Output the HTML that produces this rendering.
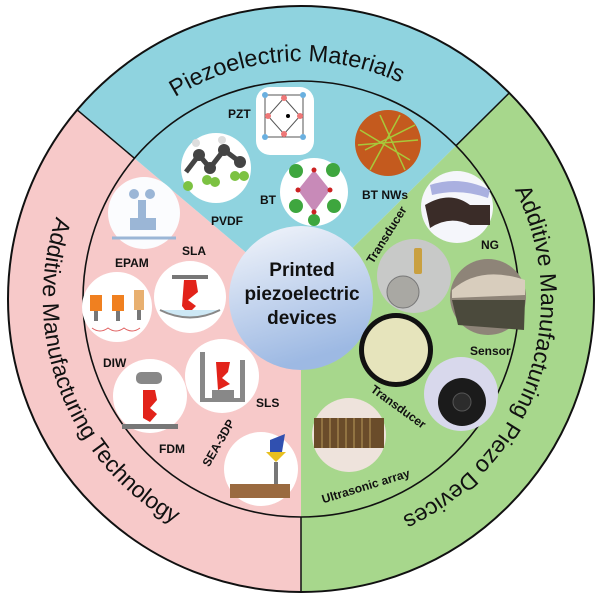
<!DOCTYPE html>
<html><head><meta charset="utf-8"><style>
html,body{margin:0;padding:0;background:#fff;width:600px;height:600px;overflow:hidden}
svg{display:block}
.l{font-family:"Liberation Sans",sans-serif;font-weight:bold;font-size:12px;fill:#111}
.r{font-family:"Liberation Sans",sans-serif;fill:#111}
</style></head><body>
<svg width="600" height="600" viewBox="0 0 600 600" xmlns="http://www.w3.org/2000/svg">
<defs>
<linearGradient id="cg" x1="0" y1="0" x2="0.3" y2="1"><stop offset="0" stop-color="#f4f6fb"/><stop offset="1" stop-color="#9db9e3"/></linearGradient>
<path id="pt" d="M77.4,217.6 A238,238 0 0 1 524.6,217.6"/>
<path id="pl" d="M153,87.6 A258,258 0 0 0 345.8,553.1"/>
<path id="pr" d="M455.3,115.2 A240,240 0 0 1 259.3,535.4"/>
</defs>
<path d="M301,299 L301,592 A293,293 0 0 1 77.2,109.9 Z" fill="#f7c9c9"/>
<path d="M301,299 L77.2,109.9 A293,293 0 0 1 509.3,92.9 Z" fill="#8fd3df"/>
<path d="M301,299 L509.3,92.9 A293,293 0 0 1 301,592 Z" fill="#a7d78c"/>
<circle cx="301" cy="299" r="293" fill="none" stroke="#111" stroke-width="2"/>
<circle cx="301" cy="299" r="218" fill="none" stroke="#111" stroke-width="1.6"/>
<line x1="77.2" y1="109.9" x2="134.5" y2="158.3" stroke="#111" stroke-width="1.5"/>
<line x1="509.3" y1="92.9" x2="456" y2="145.7" stroke="#111" stroke-width="1.5"/>
<line x1="301" y1="517" x2="301" y2="592" stroke="#111" stroke-width="1.5"/>
<text class="r" font-size="23.5"><textPath href="#pt" startOffset="47.4%" text-anchor="middle">Piezoelectric Materials</textPath></text>
<text class="r" font-size="23"><textPath href="#pl" startOffset="49%" text-anchor="middle">Additive Manufacturing Technology</textPath></text>
<text class="r" font-size="23"><textPath href="#pr" startOffset="46%" text-anchor="middle">Additive Manufacturing Piezo Devices</textPath></text>

<circle cx="301" cy="298" r="72" fill="url(#cg)"/>
<text class="r" font-weight="bold" font-size="19" text-anchor="middle" x="302" y="276">Printed</text>
<text class="r" font-weight="bold" font-size="19" text-anchor="middle" x="302" y="300">piezoelectric</text>
<text class="r" font-weight="bold" font-size="19" text-anchor="middle" x="302" y="324">devices</text>

<rect x="256" y="87" width="58" height="68" rx="14" fill="#fff"/>
<g stroke="#555" stroke-width="1" fill="none"><rect x="265" y="95" width="38" height="42"/><path d="M284,98 L300,116 L284,134 L268,116 Z"/></g>
<g fill="#e77"><circle cx="284" cy="98" r="3"/><circle cx="300" cy="116" r="3"/><circle cx="268" cy="116" r="3"/><circle cx="284" cy="134" r="3"/></g>
<g fill="#6ab0e0"><circle cx="265" cy="95" r="3"/><circle cx="303" cy="95" r="3"/><circle cx="265" cy="137" r="3"/><circle cx="303" cy="137" r="3"/></g>
<circle cx="288" cy="116" r="2" fill="#000"/>
<circle cx="216" cy="168" r="35" fill="#fff"/>
<g stroke="#444" stroke-width="5"><path d="M186,172 L199,155 L210,168 L224,150 L240,162" fill="none"/></g>
<g fill="#444"><circle cx="199" cy="155" r="6"/><circle cx="210" cy="168" r="6"/><circle cx="224" cy="150" r="6"/><circle cx="240" cy="162" r="6"/></g>
<g fill="#7cc242"><circle cx="188" cy="186" r="5"/><circle cx="207" cy="180" r="5"/><circle cx="215" cy="182" r="5"/><circle cx="235" cy="176" r="5"/><circle cx="244" cy="176" r="5"/></g>
<g fill="#ddd"><circle cx="196" cy="143" r="4"/><circle cx="222" cy="140" r="4"/></g>
<circle cx="314" cy="192" r="34" fill="#fff"/>
<path d="M314,170 L330,190 L314,212 L298,190 Z" fill="#c88ab8"/>
<g fill="#3ea63e"><circle cx="296" cy="171" r="7"/><circle cx="333" cy="170" r="7"/><circle cx="296" cy="206" r="7"/><circle cx="334" cy="206" r="7"/><circle cx="314" cy="220" r="6"/></g>
<g fill="#c22"><circle cx="314" cy="170" r="2.5"/><circle cx="330" cy="190" r="2.5"/><circle cx="298" cy="190" r="2.5"/><circle cx="314" cy="212" r="2.5"/></g>
<circle cx="388" cy="143" r="33" fill="#c45a1e"/>
<g stroke="#a8c83a" stroke-width="1.5"><path d="M360,130 L410,160 M365,150 L415,125 M370,170 L400,115 M380,115 L405,170 M358,145 L418,140"/></g>
<circle cx="144" cy="213" r="36" fill="#fbfcfe"/>
<g fill="#9bb6d6"><circle cx="134" cy="194" r="5"/><circle cx="150" cy="194" r="5"/><rect x="138" y="200" width="8" height="30"/><rect x="130" y="218" width="26" height="12"/></g>
<line x1="112" y1="238" x2="176" y2="238" stroke="#9bb6d6" stroke-width="3"/>
<circle cx="190" cy="297" r="36" fill="#fff"/>
<rect x="172" y="275" width="36" height="4" fill="#777"/><path d="M184,280 L196,280 L198,292 L188,300 L196,306 L188,314 L182,306 Z" fill="#e2231a"/>
<path d="M160,310 Q190,325 220,310" stroke="#888" stroke-width="2" fill="#cde8f5"/>
<circle cx="117" cy="307" r="35" fill="#fff"/>
<g fill="#f08020"><rect x="90" y="295" width="12" height="16"/><rect x="112" y="295" width="12" height="16"/><rect x="134" y="290" width="10" height="20" fill="#e8b070"/></g>
<g fill="#777"><rect x="94" y="311" width="4" height="10"/><rect x="116" y="311" width="4" height="10"/><rect x="137" y="310" width="4" height="10"/></g>
<path d="M92,328 q8,6 16,0 q8,6 16,0 q8,6 16,0" stroke="#e06060" fill="none"/>
<circle cx="150" cy="396" r="37" fill="#fff"/>
<rect x="136" y="372" width="26" height="12" rx="5" fill="#888"/>
<path d="M143,390 L155,390 L157,400 L150,408 L157,414 L150,422 L143,418 Z" fill="#e2231a"/>
<rect x="122" y="424" width="56" height="5" fill="#777"/>
<circle cx="222" cy="376" r="37" fill="#fff"/>
<g fill="#888"><rect x="200" y="352" width="5" height="50"/><rect x="240" y="360" width="5" height="42"/><rect x="200" y="398" width="45" height="4"/><rect x="212" y="390" width="22" height="8"/></g>
<path d="M216,362 L230,362 L228,372 L222,378 L230,384 L218,390 Z" fill="#e2231a"/>
<circle cx="261" cy="469" r="37" fill="#fff"/>
<path d="M270,440 L285,434 L282,452 L270,452 Z" fill="#3050b0"/><path d="M266,452 L286,452 L276,462 Z" fill="#e8c020"/><rect x="274" y="462" width="4" height="22" fill="#777"/>
<rect x="230" y="484" width="60" height="14" fill="#9a6a40"/>
<circle cx="457" cy="207" r="36" fill="#f5f6fb"/>
<path d="M425,205 Q450,190 470,205 L490,205 L490,225 L470,225 Q450,215 430,228 Z" fill="#3a2c28"/>
<path d="M430,185 Q460,175 490,190 L488,198 Q460,188 432,195 Z" fill="#aab0e0"/>
<circle cx="414" cy="276" r="37" fill="#c8c9c8"/>
<circle cx="403" cy="292" r="16" fill="#a9a8a3" stroke="#777"/><rect x="414" y="248" width="8" height="26" rx="2" fill="#c9a040"/>
<circle cx="488" cy="297" r="38" fill="#8e8478"/>
<path d="M452,290 Q480,265 525,280 L525,295 L452,298 Z" fill="#d8cdbd"/>
<path d="M452,300 L525,300 L524,330 L458,325 Z" fill="#4b4a3c"/>
<circle cx="396" cy="350" r="37" fill="#111"/>
<circle cx="396" cy="350" r="32" fill="#e6e4bc"/>
<circle cx="461" cy="394" r="37" fill="#d8d8ec"/>
<circle cx="462" cy="402" r="24" fill="#1b1b1b"/><circle cx="462" cy="402" r="9" fill="#2c2c2c" stroke="#555"/>
<circle cx="349" cy="435" r="37" fill="#eee3dc"/>
<rect x="314" y="418" width="70" height="30" fill="#6a4c2a"/>
<g stroke="#b89a5a" stroke-width="1"><path d="M322,418v30M330,418v30M338,418v30M346,418v30M354,418v30M362,418v30M370,418v30"/></g>

<text class="l" x="228" y="118">PZT</text>
<text class="l" x="211" y="225">PVDF</text>
<text class="l" x="260" y="204">BT</text>
<text class="l" x="362" y="199">BT NWs</text>
<text class="l" x="115" y="267">EPAM</text>
<text class="l" x="182" y="255">SLA</text>
<text class="l" x="103" y="367">DIW</text>
<text class="l" x="159" y="453">FDM</text>
<text class="l" x="256" y="407">SLS</text>
<text class="l" x="481" y="249">NG</text>
<text class="l" x="470" y="355">Sensor</text>
<text class="l" text-anchor="middle" transform="translate(390,237) rotate(-58)">Transducer</text>
<text class="l" text-anchor="middle" transform="translate(222,445) rotate(-60)">SEA-3DP</text>
<text class="l" text-anchor="middle" transform="translate(396,410) rotate(36)">Transducer</text>
<text class="l" text-anchor="middle" transform="translate(367,490) rotate(-17)">Ultrasonic array</text>
</svg>
</body></html>
